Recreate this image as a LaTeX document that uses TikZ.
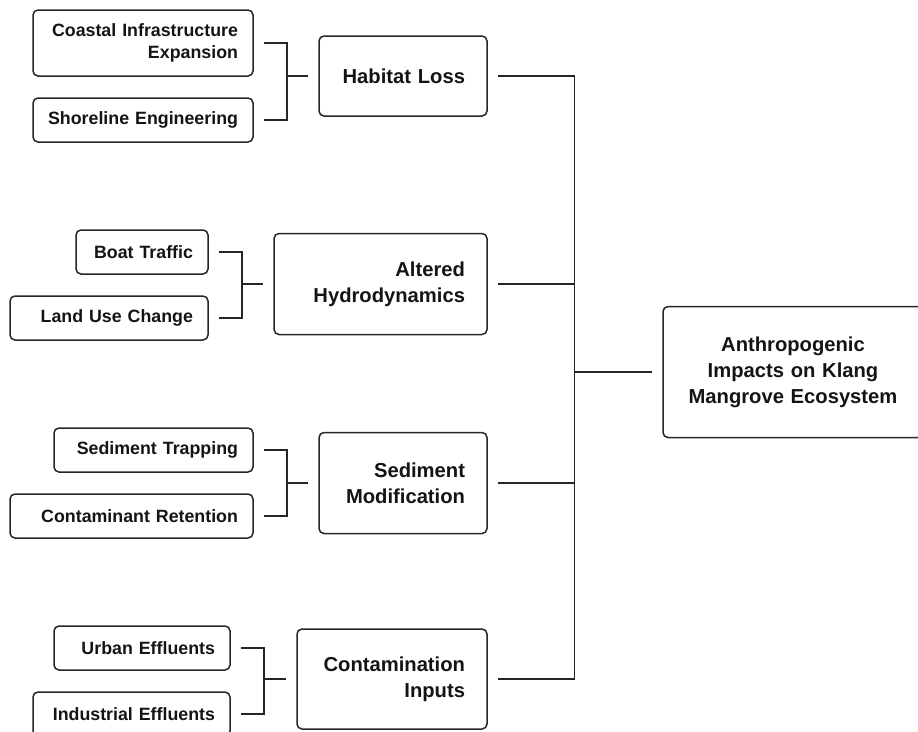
\documentclass[tikz,border=0pt]{standalone}
\usepackage{fontspec}
\setmainfont{Liberation Sans}
\begin{document}
\begin{tikzpicture}[x=1pt,y=-1pt,
  box/.style={draw=black!85, rounded corners=5pt, line width=1.5pt, text=black!92,
              inner ysep=0pt, align=right},
  leaf/.style={box, inner xsep=15pt, minimum height=44pt,
               font=\fontsize{17.8}{21.5}\selectfont\bfseries},
  cause/.style={box, inner xsep=22pt,
                font=\fontsize{20.2}{26}\selectfont\bfseries},
  conn/.style={draw=black!85, line width=1.5pt}]
\useasboundingbox (0,0) rectangle (918,731);

% root
\node[cause, align=center, text width=224pt, inner xsep=18pt, minimum height=131pt] (root) at (793,372)
  {Anthropogenic\\Impacts on Klang\\Mangrove Ecosystem};

% intermediate causes
\node[cause, text width=124pt, minimum height=80pt]  (habitat) at (403,76) {Habitat Loss};
\node[cause, text width=169pt, minimum height=101pt] (hydro)   at (380.5,284) {Altered\\Hydrodynamics};
\node[cause, text width=124pt, minimum height=101pt] (sedmod)  at (403,483) {Sediment\\Modification};
\node[cause, text width=146pt, minimum height=100pt] (contam)  at (392,679) {Contamination\\Inputs};

% drivers
\node[leaf, text width=190pt, minimum height=66pt] (coastal)   at (143,43)    {Coastal Infrastructure\\Expansion};
\node[leaf, text width=190pt] (shore)     at (143,120)   {Shoreline Engineering};
\node[leaf, text width=102pt] (boat)      at (142,252)   {Boat Traffic};
\node[leaf, text width=168pt] (landuse)   at (109,318)   {Land Use Change};
\node[leaf, text width=169pt] (sedtrap)   at (153.5,450) {Sediment Trapping};
\node[leaf, text width=213pt] (contret)   at (131.5,516) {Contaminant Retention};
\node[leaf, text width=146pt] (urban)     at (142,648)   {Urban Effluents};
\node[leaf, text width=167pt] (industry)  at (131.5,714) {Industrial Effluents};

% brackets from drivers to causes
\foreach \c/\p in {coastal/habitat, shore/habitat, boat/hydro, landuse/hydro,
                   sedtrap/sedmod, contret/sedmod, urban/contam, industry/contam}
  \draw[conn] ([xshift=10pt]\c.east) -- ++(23pt,0) |- ([xshift=-10pt]\p.west);

% spine joining causes to the root
\coordinate (hub) at ([xshift=-88pt]root.west);
\foreach \p in {habitat, hydro, sedmod, contam}
  \draw[conn] ([xshift=10pt]\p.east) -| (hub);
\draw[conn] (hub) -- ([xshift=-10pt]root.west);
\end{tikzpicture}
\end{document}
